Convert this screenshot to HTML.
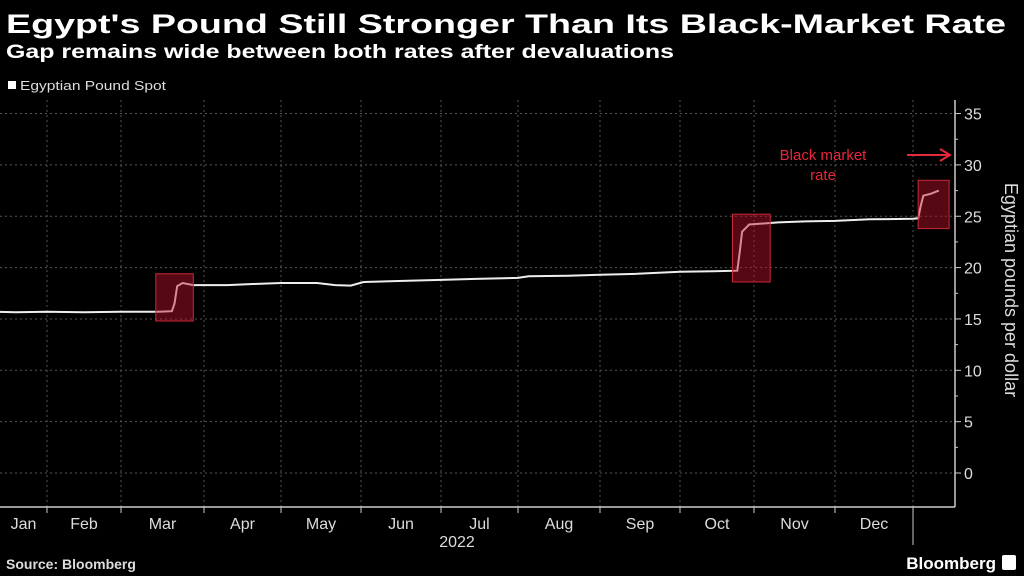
<!DOCTYPE html>
<html><head><meta charset="utf-8"><style>
html,body{margin:0;padding:0;background:#000;}
svg{display:block;font-family:"Liberation Sans",sans-serif;}
</style></head><body>
<svg id="c" width="1024" height="576" viewBox="0 0 1024 576">
<rect width="1024" height="576" fill="#000"/>
<text x="6" y="33" fill="#fff" font-size="27" font-weight="bold" textLength="1000" lengthAdjust="spacingAndGlyphs">Egypt's Pound Still Stronger Than Its Black-Market Rate</text>
<text x="6" y="58" fill="#fff" font-size="19" font-weight="bold" textLength="668" lengthAdjust="spacingAndGlyphs">Gap remains wide between both rates after devaluations</text>
<rect x="8" y="81" width="8" height="8" fill="#fff"/>
<text x="20" y="90" fill="#ddd" font-size="13" textLength="146" lengthAdjust="spacingAndGlyphs">Egyptian Pound Spot</text>
<g id="grid"></g>
<g id="series"></g>
<g id="boxes"></g>
<g id="axes"></g>
<text x="823" y="160" fill="#e8283c" font-size="15" text-anchor="middle">Black market</text>
<text x="823" y="180" fill="#e8283c" font-size="15" text-anchor="middle">rate</text>
<g stroke="#e8283c" stroke-width="2" fill="none">
<line x1="907" y1="155" x2="950" y2="155"/><polyline points="940,149 950,155 940,161"/>
</g>
<text x="457" y="547" fill="#ddd" font-size="16" text-anchor="middle">2022</text>
<text x="1005" y="290" fill="#ddd" font-size="18" text-anchor="middle" transform="rotate(90 1005 290)">Egyptian pounds per dollar</text>
<text x="6" y="569" fill="#ddd" font-size="14" font-weight="bold">Source: Bloomberg</text>
<text x="996" y="569" fill="#fff" font-size="17" text-anchor="end" font-weight="bold">Bloomberg</text>
<rect x="1002" y="555" width="14" height="15" rx="2" fill="#fff"/>
</svg>
<script>
const dates=["2022-01-13","2022-01-20","2022-02-01","2022-02-15","2022-03-01","2022-03-15","2022-03-20","2022-03-21","2022-03-22","2022-03-24","2022-03-28","2022-04-10","2022-04-20","2022-05-01","2022-05-15","2022-05-22","2022-05-28","2022-06-02","2022-06-15","2022-07-01","2022-07-15","2022-08-01","2022-08-05","2022-08-20","2022-09-01","2022-09-15","2022-10-01","2022-10-15","2022-10-25","2022-10-26","2022-10-27","2022-10-30","2022-11-10","2022-11-20","2022-12-01","2022-12-15","2023-01-01","2023-01-03","2023-01-04","2023-01-05","2023-01-08","2023-01-11"];
const values=[15.7,15.65,15.7,15.65,15.7,15.7,15.75,16.5,18.2,18.5,18.3,18.3,18.4,18.5,18.5,18.3,18.25,18.6,18.7,18.8,18.9,19.0,19.15,19.2,19.3,19.4,19.6,19.65,19.7,21.5,23.5,24.2,24.4,24.5,24.55,24.7,24.75,24.8,26.0,27.0,27.2,27.5];
const monthLabels=["Jan","Feb","Mar","Apr","May","Jun","Jul","Aug","Sep","Oct","Nov","Dec"];
const yTicks=[0,5,10,15,20,25,30,35];
const highlightStart=["2022-03-14","2022-10-23","2023-01-03"];
const highlightEnd=["2022-03-28","2022-11-07","2023-01-15"];
const highlightLow=[14.8,18.6,23.8];
const highlightHigh=[19.4,25.2,28.5];

const NS="http://www.w3.org/2000/svg";
const monthPx=[-33,47,121,204,281,361,441,518,600,680,754,835,913,993];
const X0=0,X1=955;
function x(ds){const d=new Date(ds+"T00:00:00Z");let mi=(d.getUTCFullYear()-2022)*12+d.getUTCMonth();
 const dim=new Date(Date.UTC(d.getUTCFullYear(),d.getUTCMonth()+1,0)).getUTCDate();
 return monthPx[mi]+(monthPx[mi+1]-monthPx[mi])*(d.getUTCDate()-1)/dim;}
function y(v){return 473-10.27*v;}
function mk(t,a,p){const e=document.createElementNS(NS,t);for(const k in a)e.setAttribute(k,a[k]);p.appendChild(e);return e;}
const grid=document.getElementById('grid'),axes=document.getElementById('axes'),ser=document.getElementById('series'),bx=document.getElementById('boxes');
yTicks.forEach((v,i)=>{
 const l=mk('line',{x1:X0,x2:X1,y1:y(v),y2:y(v),stroke:'#555','stroke-dasharray':'2,3','stroke-width':1},grid);
 
 
 const t=mk('text',{x:964,y:y(v)+6,fill:'#ddd','font-size':16},axes);t.textContent=v;
 
 
 mk('line',{x1:X1,x2:X1+6,y1:y(v),y2:y(v),stroke:'#ccc'},axes);
 if(i<yTicks.length-1) mk('line',{x1:X1,x2:X1+3,y1:y(v+2.5),y2:y(v+2.5),stroke:'#ccc'},axes);
});
for(let i=1;i<=12;i++){
 const gx=monthPx[i];
 const l=mk('line',{x1:gx,x2:gx,y1:100,y2:507,stroke:'#555','stroke-dasharray':'2,3'},grid);
 
 
 mk('line',{x1:gx,x2:gx,y1:507,y2:(i==12?545:513),stroke:'#ccc'},axes);
}
monthLabels.forEach((m,i)=>{
 const a=Math.max(monthPx[i],0),b=monthPx[i+1];
 const t=mk('text',{x:(a+b)/2,y:529,fill:'#ddd','font-size':16,'text-anchor':'middle'},axes);t.textContent=m;
 
 
});
mk('line',{x1:0,x2:X1,y1:507,y2:507,stroke:'#ccc','stroke-width':1.5},axes);
mk('line',{x1:X1,x2:X1,y1:100,y2:507,stroke:'#ccc','stroke-width':1.5},axes);
const pts=dates.map((d,i)=>x(d).toFixed(1)+','+y(values[i]).toFixed(1)).join(' ');
const pl=mk('polyline',{points:pts,fill:'none',stroke:'#eee','stroke-width':2},ser);


highlightStart.forEach((s,i)=>{
 const x1=x(s),x2=x(highlightEnd[i]);
 const r=mk('rect',{x:x1,y:y(highlightHigh[i]),width:x2-x1,height:y(highlightLow[i])-y(highlightHigh[i]),fill:'rgba(190,20,40,0.45)',stroke:'#c8283c','stroke-width':1},bx);
 
 
});
</script>
</body></html>
